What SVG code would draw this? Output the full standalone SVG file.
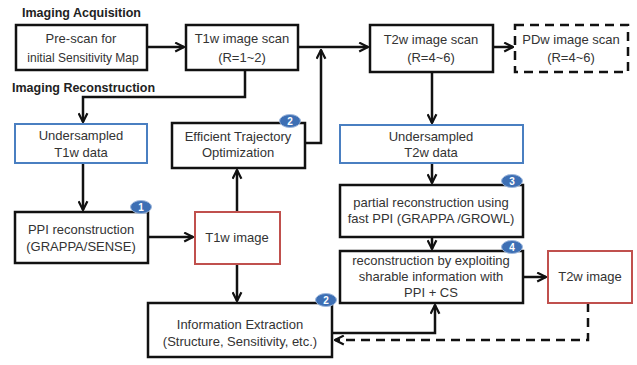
<svg xmlns="http://www.w3.org/2000/svg" width="637" height="365" viewBox="0 0 637 365">
<style>
text{font-family:"Liberation Sans",Arial,sans-serif;font-size:13px;fill:#333;text-anchor:middle}
.h{font-weight:bold;font-size:12.5px;text-anchor:start;fill:#222}
.box{fill:#fff;stroke:#111;stroke-width:2.5}
.blue{fill:#fff;stroke:#4a7fc1;stroke-width:2}
.red{fill:#fff;stroke:#c0504d;stroke-width:2}
.dash{fill:#fff;stroke:#111;stroke-width:2.5;stroke-dasharray:9 6}
.c{fill:none;stroke:#111;stroke-width:2.5}
.cd{fill:none;stroke:#111;stroke-width:2.5;stroke-dasharray:9 6}
.badge{fill:#3d6fb4;stroke:#9db7dc;stroke-width:1}
.bt{fill:#fff;font-size:10px;font-weight:bold}
</style>
<defs>
<marker id="a" viewBox="0 0 10 10" refX="9" refY="5" markerWidth="4.4" markerHeight="4.4" orient="auto" markerUnits="strokeWidth">
<path d="M1,1 L9,5 L1,9" fill="none" stroke="#111" stroke-width="2"/>
</marker>
</defs>
<text class="h" x="22" y="17">Imaging Acquisition</text>
<text class="h" x="12" y="92">Imaging Reconstruction</text>
<g id="connectors">
<path class="c" d="M147,47 H184" marker-end="url(#a)"/>
<path class="c" d="M298,47 H368" marker-end="url(#a)"/>
<path class="c" d="M305,143 H321 V50" marker-end="url(#a)"/>
<path class="c" d="M493,47 H513" marker-end="url(#a)"/>
<path class="c" d="M245,70 V97 H83 V122" marker-end="url(#a)"/>
<path class="c" d="M83,163 V210" marker-end="url(#a)"/>
<path class="c" d="M148,237 H193" marker-end="url(#a)"/>
<path class="c" d="M237,212 V170" marker-end="url(#a)"/>
<path class="c" d="M237,264 V301" marker-end="url(#a)"/>
<path class="c" d="M432,72 V123" marker-end="url(#a)"/>
<path class="c" d="M432,163 V183" marker-end="url(#a)"/>
<path class="c" d="M432,237 V249" marker-end="url(#a)"/>
<path class="c" d="M523,277 H546" marker-end="url(#a)"/>
<path class="c" d="M332,333 H435 V305" marker-end="url(#a)"/>
<path class="cd" d="M588,303 V340 H335" marker-end="url(#a)"/>
</g>
<g id="prescan"><rect class="box" x="16" y="25" width="131" height="45"/><text x="81" y="43">Pre-scan  for</text><text x="83" y="62" style="font-size:12px">initial Sensitivity Map</text></g>
<g id="t1scan"><rect class="box" x="186" y="25" width="112" height="45"/><text x="242" y="43">T1w image scan</text><text x="242" y="62">(R=1~2)</text></g>
<g id="t2scan"><rect class="box" x="370" y="25" width="123" height="47"/><text x="431" y="44">T2w image scan</text><text x="431" y="62">(R=4~6)</text></g>
<g id="pdscan"><rect class="dash" x="515" y="25" width="113" height="47"/><text x="571" y="44">PDw image scan</text><text x="571" y="62">(R=4~6)</text></g>
<g id="us1"><rect class="blue" x="15" y="124" width="132" height="39"/><text x="81" y="140">Undersampled</text><text x="81" y="157">T1w data</text></g>
<g id="eto"><rect class="box" x="172" y="123" width="133" height="45"/><text x="238" y="141">Efficient Trajectory</text><text x="238" y="157">Optimization</text>
<ellipse class="badge" cx="290" cy="121" rx="10.5" ry="6.5"/><text class="bt" x="290" y="125">2</text></g>
<g id="ppi"><rect class="box" x="15" y="212" width="133" height="51"/><text x="81" y="234">PPI reconstruction</text><text x="81" y="251">(GRAPPA/SENSE)</text>
<ellipse class="badge" cx="141" cy="207" rx="10.5" ry="6.5"/><text class="bt" x="141" y="211">1</text></g>
<g id="t1img"><rect class="red" x="195" y="212" width="85" height="52"/><text x="237" y="242">T1w image</text></g>
<g id="info"><rect class="box" x="148" y="303" width="184" height="54"/><text x="240" y="329">Information Extraction</text><text x="240" y="346">(Structure, Sensitivity, etc.)</text>
<ellipse class="badge" cx="326" cy="300" rx="10.5" ry="6.5"/><text class="bt" x="326" y="304">2</text></g>
<g id="us2"><rect class="blue" x="340" y="125" width="183" height="38"/><text x="431" y="141">Undersampled</text><text x="431" y="157">T2w data</text></g>
<g id="partial"><rect class="box" x="340" y="185" width="183" height="52"/><text x="431" y="207">partial reconstruction using</text><text x="431" y="223">fast PPI (GRAPPA /GROWL)</text>
<ellipse class="badge" cx="512" cy="181" rx="10.5" ry="6.5"/><text class="bt" x="512" y="185">3</text></g>
<g id="recon"><rect class="box" x="340" y="251" width="183" height="52"/><text x="431" y="265">reconstruction by exploiting</text><text x="431" y="281">sharable information with</text><text x="431" y="297">PPI + CS</text>
<ellipse class="badge" cx="512" cy="247" rx="10.5" ry="6.5"/><text class="bt" x="512" y="251">4</text></g>
<g id="t2img"><rect class="red" x="548" y="251" width="84" height="52"/><text x="590" y="281">T2w image</text></g>
</svg>
